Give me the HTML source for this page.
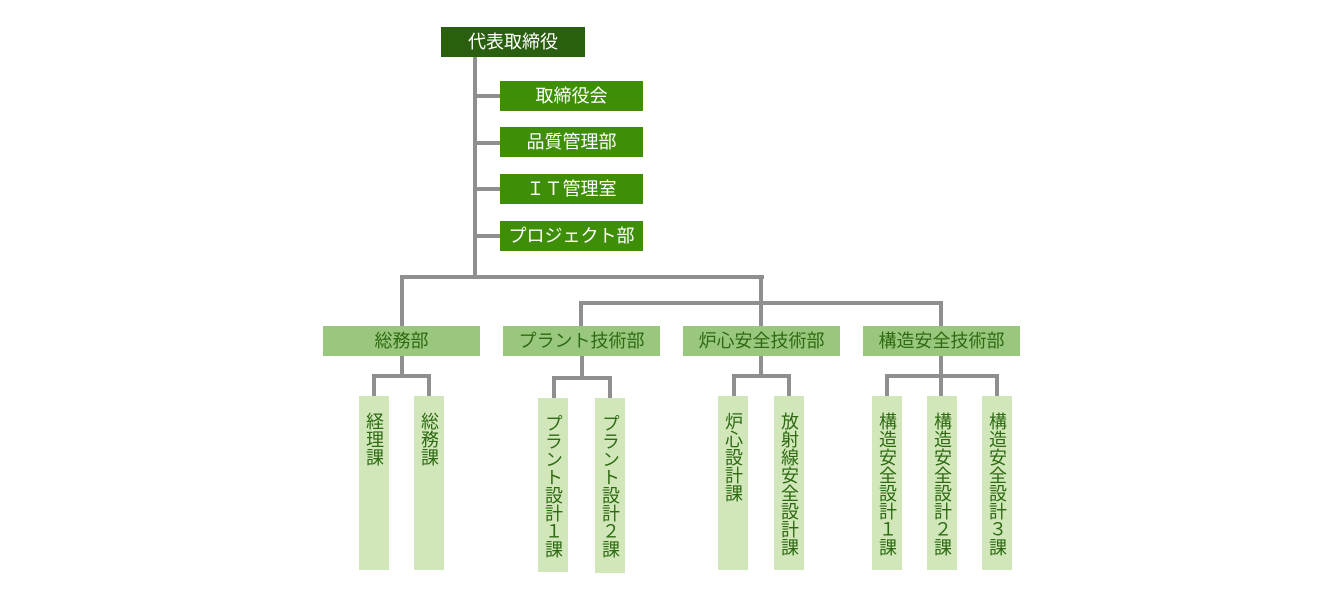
<!DOCTYPE html>
<html lang="ja">
<head>
<meta charset="utf-8">
<style>
  html,body{margin:0;padding:0;background:#fff;}
  body{width:1344px;height:596px;position:relative;overflow:hidden;
    font-family:"Liberation Sans","Noto Sans CJK JP",sans-serif;}
  .l{position:absolute;background:#8f8f8f;}
  .b{position:absolute;height:30px;line-height:30px;text-align:center;font-size:18px;white-space:nowrap;}
  .top{background:#2b5f10;color:#fff;}
  .sec{background:#3e8e07;color:#fff;}
  .dep{background:#9ac77e;color:#2d6a12;}
  .leaf{position:absolute;width:30px;background:#d1e7ba;color:#2d6a12;font-size:18px;
    box-sizing:border-box;padding-top:16px;}
  .leaf span{writing-mode:vertical-rl;text-orientation:upright;display:block;margin:0 auto;width:18px;line-height:18px;letter-spacing:0;}
</style>
</head>
<body>
<!-- connector lines -->
<div class="l" style="left:473px;top:56px;width:4px;height:223px;"></div>
<div class="l" style="left:477px;top:94px;width:23px;height:4px;"></div>
<div class="l" style="left:477px;top:141px;width:23px;height:4px;"></div>
<div class="l" style="left:477px;top:187px;width:23px;height:4px;"></div>
<div class="l" style="left:477px;top:234px;width:23px;height:4px;"></div>

<div class="l" style="left:400px;top:275px;width:364px;height:4px;"></div>
<div class="l" style="left:400px;top:275px;width:4px;height:51px;"></div>
<div class="l" style="left:759px;top:275px;width:4px;height:51px;"></div>
<div class="l" style="left:579px;top:301px;width:364px;height:4px;"></div>
<div class="l" style="left:579px;top:301px;width:4px;height:25px;"></div>
<div class="l" style="left:939px;top:301px;width:4px;height:25px;"></div>

<!-- 総務部 children -->
<div class="l" style="left:400px;top:355px;width:4px;height:21px;"></div>
<div class="l" style="left:372px;top:374px;width:59px;height:4px;"></div>
<div class="l" style="left:372px;top:374px;width:4px;height:22px;"></div>
<div class="l" style="left:427px;top:374px;width:4px;height:22px;"></div>

<!-- プラント技術部 children -->
<div class="l" style="left:580px;top:355px;width:4px;height:23px;"></div>
<div class="l" style="left:552px;top:376px;width:60px;height:4px;"></div>
<div class="l" style="left:552px;top:376px;width:4px;height:22px;"></div>
<div class="l" style="left:608px;top:376px;width:4px;height:22px;"></div>

<!-- 炉心安全技術部 children -->
<div class="l" style="left:759px;top:355px;width:4px;height:21px;"></div>
<div class="l" style="left:732px;top:374px;width:59px;height:4px;"></div>
<div class="l" style="left:732px;top:374px;width:4px;height:22px;"></div>
<div class="l" style="left:787px;top:374px;width:4px;height:22px;"></div>

<!-- 構造安全技術部 children -->
<div class="l" style="left:939px;top:355px;width:4px;height:21px;"></div>
<div class="l" style="left:885px;top:374px;width:114px;height:4px;"></div>
<div class="l" style="left:885px;top:374px;width:4px;height:22px;"></div>
<div class="l" style="left:939px;top:374px;width:4px;height:22px;"></div>
<div class="l" style="left:995px;top:374px;width:4px;height:22px;"></div>

<!-- boxes -->
<div class="b top" style="left:441px;top:27px;width:144px;">代表取締役</div>
<div class="b sec" style="left:500px;top:81px;width:143px;">取締役会</div>
<div class="b sec" style="left:500px;top:127px;width:143px;">品質管理部</div>
<div class="b sec" style="left:500px;top:174px;width:143px;">ＩＴ管理室</div>
<div class="b sec" style="left:500px;top:221px;width:143px;">プロジェクト部</div>

<div class="b dep" style="left:323px;top:326px;width:157px;">総務部</div>
<div class="b dep" style="left:503px;top:326px;width:157px;">プラント技術部</div>
<div class="b dep" style="left:683px;top:326px;width:157px;">炉心安全技術部</div>
<div class="b dep" style="left:863px;top:326px;width:157px;">構造安全技術部</div>

<!-- leaves -->
<div class="leaf" style="left:359px;top:396px;height:174px;"><span>経理課</span></div>
<div class="leaf" style="left:414px;top:396px;height:174px;"><span>総務課</span></div>
<div class="leaf" style="left:538px;top:398px;height:174px;"><span>プラント設計１課</span></div>
<div class="leaf" style="left:595px;top:398px;height:175px;"><span>プラント設計２課</span></div>
<div class="leaf" style="left:718px;top:396px;height:174px;"><span>炉心設計課</span></div>
<div class="leaf" style="left:774px;top:396px;height:174px;"><span>放射線安全設計課</span></div>
<div class="leaf" style="left:872px;top:396px;height:174px;"><span>構造安全設計１課</span></div>
<div class="leaf" style="left:927px;top:396px;height:174px;"><span>構造安全設計２課</span></div>
<div class="leaf" style="left:982px;top:396px;height:174px;"><span>構造安全設計３課</span></div>
</body>
</html>
